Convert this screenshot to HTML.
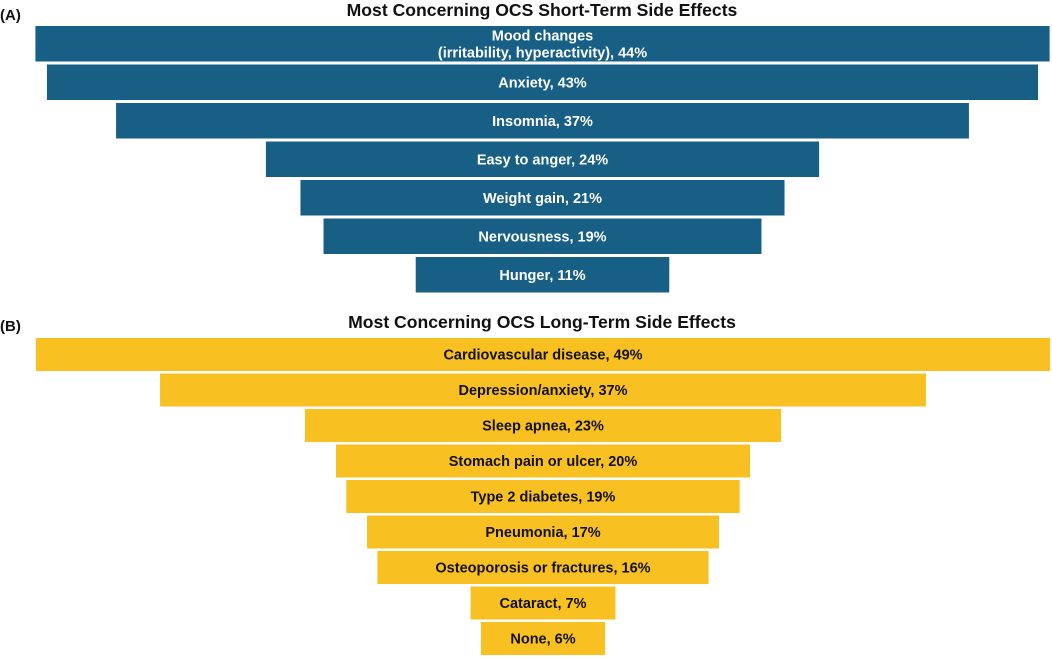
<!DOCTYPE html>
<html><head><meta charset="utf-8"><style>
html,body{margin:0;padding:0;background:#fff;}
svg{display:block;font-family:"Liberation Sans",Arial,sans-serif;}
</style></head><body>
<svg id="chart" width="1052" height="658" viewBox="0 0 1052 658">
<text x="0" y="20" font-size="15" font-weight="bold" fill="#111">(A)</text>
<text x="542" y="16" font-size="17.6" font-weight="bold" text-anchor="middle" fill="#111">Most Concerning OCS Short-Term Side Effects</text>
<text x="0" y="331" font-size="15" font-weight="bold" fill="#111">(B)</text>
<text x="542" y="328" font-size="17.6" font-weight="bold" text-anchor="middle" fill="#111">Most Concerning OCS Long-Term Side Effects</text>
<g id="ga"></g>
<g id="gb"></g>
</svg>
<script>
const shortCats = [["Mood changes","(irritability, hyperactivity), 44%"],["Anxiety, 43%"],["Insomnia, 37%"],["Easy to anger, 24%"],["Weight gain, 21%"],["Nervousness, 19%"],["Hunger, 11%"]];
const shortVals = [44,43,37,24,21,19,11];
const longCats = ["Cardiovascular disease","Depression/anxiety","Sleep apnea","Stomach pain or ulcer","Type 2 diabetes","Pneumonia","Osteoporosis or fractures","Cataract","None"];
const longVals = [49,37,23,20,19,17,16,7,6];

const NS="http://www.w3.org/2000/svg";
function draw(gid, labels, vals, cx, scale, y0, pitch, h, fill, tcol, prefix){
  const g=document.getElementById(gid);
  vals.forEach((v,i)=>{
    const w=v*scale, y=y0+i*pitch;
    const r=document.createElementNS(NS,'rect');
    r.setAttribute('x',cx-w/2);r.setAttribute('y',y);r.setAttribute('width',w);r.setAttribute('height',h);r.setAttribute('fill',fill);
    
    
    g.appendChild(r);
    const lines=labels[i];
    lines.forEach((ln,j)=>{
      const t=document.createElementNS(NS,'text');
      t.setAttribute('x',cx);
      t.setAttribute('y',y+h/2+5+(j-(lines.length-1)/2)*17);
      t.setAttribute('text-anchor','middle');t.setAttribute('font-size','14.5');t.setAttribute('font-weight','bold');t.setAttribute('fill',tcol);
      t.textContent=ln;
      
      
      g.appendChild(t);
    });
  });
}
draw('ga', shortCats, shortVals, 542.5, 23.05, 26, 38.5, 35.5, '#175f85', '#fff', 'short-term');
draw('gb', longCats.map((c,i)=>[c+', '+longVals[i]+'%']), longVals, 543, 20.7, 338, 35.5, 33, '#f8c021', '#111', 'long-term');
</script>
</body></html>
